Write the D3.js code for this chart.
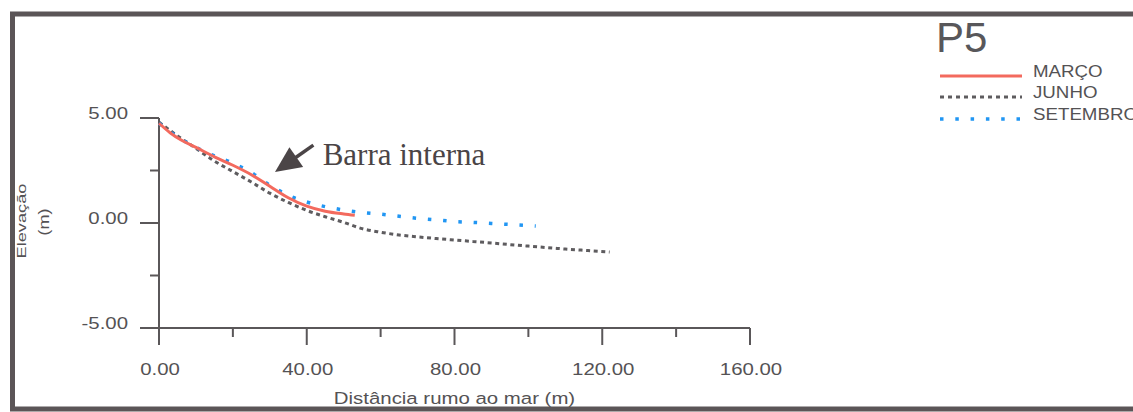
<!DOCTYPE html>
<html>
<head>
<meta charset="utf-8">
<script src="https://cdn.jsdelivr.net/npm/d3@7"></script>
<style>
  html, body { margin: 0; padding: 0; background: #fff; }
  svg { display: block; }
  text { font-family: "Liberation Sans", Arial, sans-serif; fill: #545254; }
</style>
</head>
<body>
<svg id="chart" width="1133" height="412"></svg>
<script>
// distance (m) and elevation (m)
var marcoDist = [0, 3, 6, 10, 15, 20, 25, 30, 35, 40, 45, 50, 53];
var marcoElev = [4.75, 4.3, 3.95, 3.6, 3.15, 2.75, 2.3, 1.75, 1.2, 0.8, 0.56, 0.43, 0.37];

var junhoDist = [0, 5, 10, 15, 20, 25, 30, 35, 40, 45, 50, 55, 60, 65, 70, 75, 80, 85, 90, 95, 100, 105, 110, 115, 122];
var junhoElev = [4.8, 4.15, 3.55, 2.95, 2.45, 1.95, 1.42, 0.98, 0.6, 0.3, 0.03, -0.27, -0.44, -0.57, -0.66, -0.74, -0.81, -0.88, -0.95, -1.03, -1.1, -1.17, -1.24, -1.3, -1.38];

var setembroDist = [0, 5, 10, 15, 20, 25, 30, 35, 40, 45, 50, 55, 60, 65, 70, 75, 80, 85, 90, 95, 102];
var setembroElev = [4.75, 4.1, 3.6, 3.2, 2.85, 2.4, 1.8, 1.32, 1.0, 0.78, 0.62, 0.5, 0.42, 0.32, 0.22, 0.15, 0.07, 0.03, -0.02, -0.07, -0.14];

var seriesNames = ["MARÇO", "JUNHO", "SETEMBRO"];
var xTicks = [0, 40, 80, 120, 160];
var xMinorTicks = [20, 60, 100, 140];
var yTicks = [5, 0, -5];
var yMinorTicks = [2.5, -2.5];

var svg = d3.select("#chart");
var axisColor = "#5a5759";

// scanned frame
svg.append("rect")
    .attr("x", 12.5)
    .attr("y", 14)
    .attr("width", 1140)
    .attr("height", 395)
    .style("fill", "none")
    .style("stroke", "#5b5557")
    .style("stroke-width", 5);

var x = d3.scaleLinear().domain([0, 160]).range([159, 750]);
var y = d3.scaleLinear().domain([-5, 5]).range([328, 118]);

function fmt(d) {
    return d3.format(".2f")(d).replace("\u2212", "-");
}

// the scan's lettering is wide, so stretch it horizontally
function wideText(sel, px, py, sx, rot) {
    sel.attr("transform", "translate(" + px + "," + py + ")" +
        (rot ? " rotate(" + rot + ")" : "") + " scale(" + sx + ",1)");
    return sel;
}

// y axis
var yAxis = svg.append("g").attr("class", "axis axis--y");
yAxis.append("line")
    .attr("x1", x(0)).attr("x2", x(0))
    .attr("y1", y(5)).attr("y2", y(-5) + 17)
    .style("stroke", axisColor).style("stroke-width", 2);
yAxis.selectAll(".major").data(yTicks).enter().append("line")
    .attr("x1", x(0) - 19).attr("x2", x(0))
    .attr("y1", function(d) { return y(d); })
    .attr("y2", function(d) { return y(d); })
    .style("stroke", axisColor).style("stroke-width", 2);
yAxis.selectAll(".minor").data(yMinorTicks).enter().append("line")
    .attr("x1", x(0) - 9).attr("x2", x(0))
    .attr("y1", function(d) { return y(d); })
    .attr("y2", function(d) { return y(d); })
    .style("stroke", axisColor).style("stroke-width", 2);
yAxis.selectAll("text").data(yTicks).enter().append("text")
    .each(function(d) { wideText(d3.select(this), 128, y(d) + 1, 1.2); })
    .attr("text-anchor", "end")
    .style("font-size", "17px")
    .text(function(d) { return fmt(d); });

// x axis
var xAxis = svg.append("g").attr("class", "axis axis--x");
xAxis.append("line")
    .attr("x1", x(0) - 19).attr("x2", x(160))
    .attr("y1", y(-5)).attr("y2", y(-5))
    .style("stroke", axisColor).style("stroke-width", 2);
xAxis.selectAll(".major").data(xTicks).enter().append("line")
    .attr("x1", function(d) { return x(d); })
    .attr("x2", function(d) { return x(d); })
    .attr("y1", y(-5)).attr("y2", y(-5) + 17)
    .style("stroke", axisColor).style("stroke-width", 2);
xAxis.selectAll(".minor").data(xMinorTicks).enter().append("line")
    .attr("x1", function(d) { return x(d); })
    .attr("x2", function(d) { return x(d); })
    .attr("y1", y(-5)).attr("y2", y(-5) + 9)
    .style("stroke", axisColor).style("stroke-width", 2);
xAxis.selectAll("text").data(xTicks).enter().append("text")
    .each(function(d) { wideText(d3.select(this), x(d) + 1, 375, 1.2); })
    .attr("text-anchor", "middle")
    .style("font-size", "17px")
    .text(function(d) { return fmt(d); });

// axis titles
wideText(svg.append("text"), (x(0) + x(160)) / 2, 404, 1.2)
    .attr("text-anchor", "middle")
    .style("font-size", "17px")
    .text("Distância rumo ao mar (m)");

wideText(svg.append("text"), 26, y(0) - 2, 1.35, -90)
    .attr("text-anchor", "middle")
    .style("font-size", "13.5px")
    .text("Elevação");
wideText(svg.append("text"), 49, y(0) - 1, 1.3, -90)
    .attr("text-anchor", "middle")
    .style("font-size", "14px")
    .text("(m)");

// series
var styles = [
    { color: "#f36a5e", width: 3, dash: null },
    { color: "#5e5c5f", width: 3, dash: "4,3.6" },
    { color: "#2196f3", width: 3.5, dash: "3.5,11.8" }
];
var dists = [marcoDist, junhoDist, setembroDist];
var elevs = [marcoElev, junhoElev, setembroElev];

var line = d3.line()
    .curve(d3.curveMonotoneX)
    .x(function(d) { return x(d[0]); })
    .y(function(d) { return y(d[1]); });

[1, 2, 0].forEach(function(i) {
    var pts = d3.zip(dists[i], elevs[i]);
    svg.append("path")
        .datum(pts)
        .style("fill", "none")
        .style("stroke", styles[i].color)
        .style("stroke-width", styles[i].width)
        .style("stroke-dasharray", styles[i].dash)
        .attr("d", line);
});

// annotation "Barra interna"
var tip = [x(31.4), y(2.43)];
var tail = [x(41.8), y(3.71)];
var dx = tail[0] - tip[0], dy = tail[1] - tip[1];
var len = Math.sqrt(dx * dx + dy * dy);
var ux = dx / len, uy = dy / len;
var headLen = 26, headW = 12;
var base = [tip[0] + ux * headLen, tip[1] + uy * headLen];
svg.append("line")
    .attr("x1", base[0] - ux * 2).attr("y1", base[1] - uy * 2)
    .attr("x2", tail[0]).attr("y2", tail[1])
    .style("stroke", "#4b4547").style("stroke-width", 3.5);
svg.append("path")
    .attr("d", "M" + tip[0] + "," + tip[1] +
        "L" + (base[0] - uy * headW) + "," + (base[1] + ux * headW) +
        "L" + (base[0] + uy * headW) + "," + (base[1] - ux * headW) + "Z")
    .style("fill", "#4b4547");
svg.append("text")
    .attr("x", x(44.3))
    .attr("y", y(2.76))
    .style("font-family", "'Liberation Serif', 'Times New Roman', serif")
    .style("font-size", "31px")
    .style("fill", "#4a4446")
    .text("Barra interna");

// title + legend
svg.append("text")
    .attr("x", 936)
    .attr("y", 52)
    .style("font-size", "42px")
    .style("fill", "#58575a")
    .text("P5");

var legendY = [76, 97, 119];
var legend = svg.selectAll(".legend").data(seriesNames).enter().append("g")
    .attr("class", "legend");
legend.append("line")
    .attr("x1", 940).attr("x2", 1022)
    .attr("y1", function(d, i) { return legendY[i]; })
    .attr("y2", function(d, i) { return legendY[i]; })
    .style("stroke", function(d, i) { return styles[i].color; })
    .style("stroke-width", function(d, i) { return styles[i].width; })
    .style("stroke-dasharray", function(d, i) {
        return i === 1 ? "4,4" : styles[i].dash;
    });
legend.append("text")
    .each(function(d, i) { wideText(d3.select(this), 1033, legendY[i] + 1, 1.17); })
    .style("font-size", "16px")
    .text(function(d) { return d; });
</script>
</body>
</html>
